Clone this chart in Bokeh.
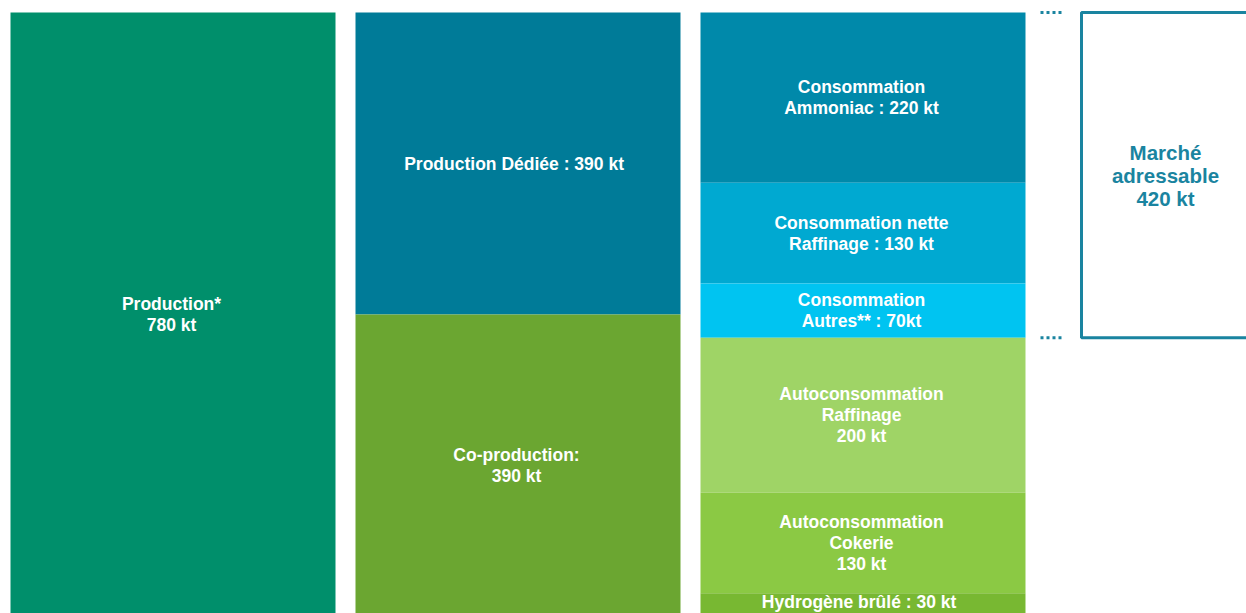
from bokeh.plotting import figure
from bokeh.models import Range1d, ColumnDataSource
from bokeh.core.properties import value
from bokeh.embed import file_html
from bokeh.resources import INLINE

# ---- data ----
col1_labels = ["Production*\n780 kt"]
col1_values = [780]
col1_colors = ["#008f6b"]

col2_labels = ["Production Dédiée  : 390 kt", "Co-production:\n390 kt"]
col2_values = [390, 390]
col2_colors = ["#007b98", "#6ba631"]

col3_labels = ["Consommation\nAmmoniac : 220 kt",
               "Consommation nette\nRaffinage : 130 kt",
               "Consommation\nAutres** : 70kt",
               "Autoconsommation\nRaffinage\n200 kt",
               "Autoconsommation\nCokerie\n130 kt",
               "Hydrogène brûlé  : 30 kt"]
col3_values = [220, 130, 70, 200, 130, 30]
col3_colors = ["#0089aa", "#00a9d1", "#00c4f1", "#9fd466", "#8bc944", "#78b832"]

market_label = "Marché\nadressable\n420 kt"
market_value = 420

FONT = "Liberation Sans"

Y_MAX = 776.1
p = figure(width=1246, height=613, output_backend="svg", toolbar_location=None,
           x_range=Range1d(-0.5, 3.1116), y_range=Range1d(Y_MAX, -15.5),
           min_border=0, background_fill_color="white", border_fill_color="white")
p.axis.visible = False
p.grid.visible = False
p.outline_line_color = None

PITCH = 345.0
W = 325 / PITCH
LINE_PX = 21

rects = dict(left=[], right=[], top=[], bottom=[], color=[])
txt = dict(x=[], y=[], text=[], yoff=[])

for i, (labels, vals, cols) in enumerate([(col1_labels, col1_values, col1_colors),
                                          (col2_labels, col2_values, col2_colors),
                                          (col3_labels, col3_values, col3_colors)]):
    cum = 0
    for lab, v, c in zip(labels, vals, cols):
        rects["left"].append(i - W / 2)
        rects["right"].append(i + W / 2)
        rects["top"].append(cum)
        rects["bottom"].append(cum + v)
        rects["color"].append(c)
        mid = cum + v / 2
        extra = -3 if mid > Y_MAX - 15 else 0  # keep bottom label inside the view
        lines = lab.split("\n")
        n = len(lines)
        for k, ln in enumerate(lines):
            txt["x"].append(i - 1.5 / PITCH)
            txt["y"].append(mid)
            txt["text"].append(ln)
            txt["yoff"].append((k - (n - 1) / 2) * LINE_PX + extra)
        cum += v

p.quad(left="left", right="right", top="top", bottom="bottom", fill_color="color",
       line_color=None, source=ColumnDataSource(rects))
p.text(x="x", y="y", text="text", y_offset="yoff", source=ColumnDataSource(txt),
       text_color="white", text_font=value(FONT), text_font_style="bold",
       text_font_size="17.5px", text_align="center", text_baseline="middle")

# market box
TEAL = "#1a84a0"
bx_left = (1081 - 172.5) / PITCH
bx_right = 3.2
p.quad(left=[bx_left], right=[bx_right], top=[0], bottom=[market_value],
       fill_color=None, line_color=TEAL, line_width=3)
mlines = market_label.split("\n")
mx = (1165 - 172.5) / PITCH
p.text(x=[mx] * len(mlines), y=[market_value / 2] * len(mlines), text=mlines,
       y_offset=[(k - 1) * 23 for k in range(len(mlines))],
       text_color=TEAL, text_font=value(FONT), text_font_style="bold",
       text_font_size="20.5px", text_align="center", text_baseline="middle")

# dotted markers
d0 = (1040 - 172.5) / PITCH
d1 = (1062 - 172.5) / PITCH
p.segment(x0=[d0, d0], x1=[d1, d1], y0=[0, market_value], y1=[0, market_value],
          line_color=TEAL, line_width=3, line_dash="3 3")

open("out.html", "w").write(file_html(p, INLINE))
